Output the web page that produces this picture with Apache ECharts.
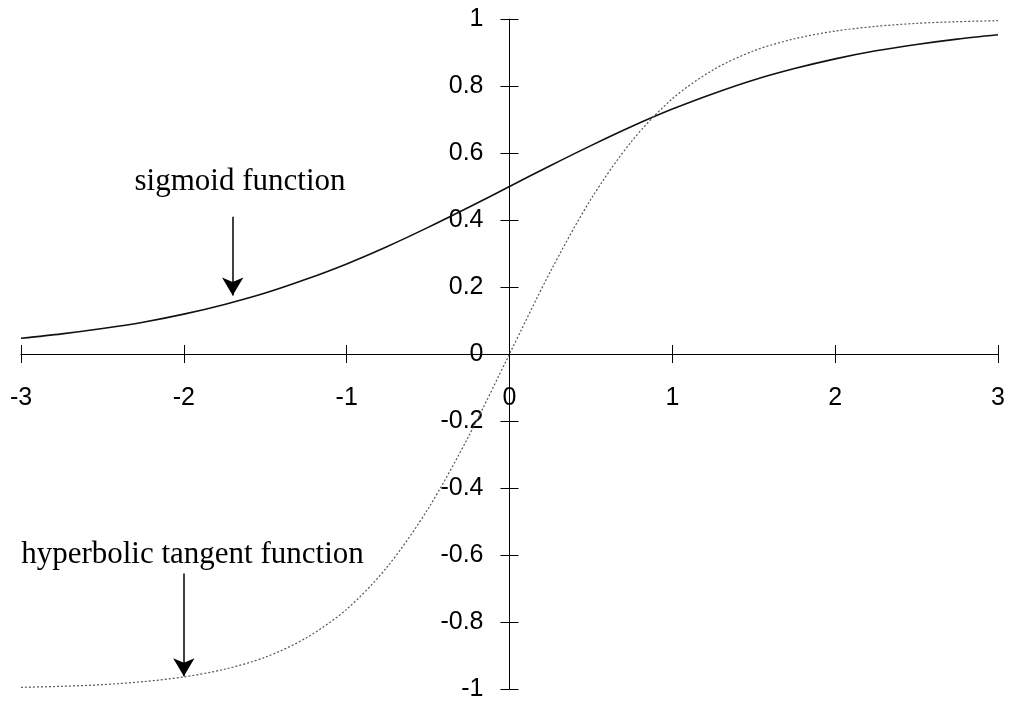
<!DOCTYPE html>
<html>
<head>
<meta charset="utf-8">
<script src="https://cdn.jsdelivr.net/npm/echarts@6/dist/echarts.min.js"></script>
<style>
  html, body { margin: 0; padding: 0; background: #ffffff; }
  #chart { width: 1011px; height: 701px; }
</style>
</head>
<body>
<div id="chart"></div>
<script>
// Sample points along the x axis
const xValues = [-3, -2.75, -2.5, -2.25, -2, -1.75, -1.5, -1.25, -1, -0.75, -0.5, -0.25,
  0, 0.25, 0.5, 0.75, 1, 1.25, 1.5, 1.75, 2, 2.25, 2.5, 2.75, 3];

// Logistic sigmoid readings
const sigmoidValues = [0.047, 0.060, 0.076, 0.095, 0.119, 0.148, 0.182, 0.223, 0.269, 0.321, 0.378, 0.438,
  0.500, 0.562, 0.622, 0.679, 0.731, 0.777, 0.818, 0.852, 0.881, 0.905, 0.924, 0.940, 0.953];

// Hyperbolic tangent readings
const tanhValues = [-0.995, -0.992, -0.987, -0.978, -0.964, -0.941, -0.905, -0.848, -0.762, -0.635, -0.462, -0.245,
  0.000, 0.245, 0.462, 0.635, 0.762, 0.848, 0.905, 0.941, 0.964, 0.978, 0.987, 0.992, 0.995];

// Callout labels and their arrows, in data units
const calloutTexts = ['sigmoid function', 'hyperbolic tangent function'];
const calloutTextAt = [[-1.655, 0.469], [-1.947, -0.646]];
const calloutArrowFrom = [[-1.70, 0.41], [-2.0, -0.655]];
const calloutArrowTo = [[-1.70, 0.175], [-2.0, -0.962]];

const pairs = (xs, ys) => xs.map((x, i) => [x, ys[i]]);

const el = document.getElementById('chart');
const chart = echarts.init(el, null, { renderer: 'canvas' });

// Plot box; the axes are shifted into its middle so they cross at the origin
const gridBox = { left: 21, right: 13, top: 19, bottom: 12 };
const plotW = chart.getWidth() - gridBox.left - gridBox.right;
const plotH = chart.getHeight() - gridBox.top - gridBox.bottom;
const xAxisShift = -plotH / 2;   // bottom axis moved up to y = 0
const yAxisShift = -plotW / 2;   // left axis moved right to x = 0

const axisFont = { fontFamily: 'Liberation Sans, Arial, sans-serif', fontSize: 25, color: '#000' };
const lineBlack = { color: '#000', width: 1 };

const arrowData = calloutArrowFrom.map((from, i) => [
  { coord: from },
  { coord: calloutArrowTo[i] }
]);

chart.setOption({
  animation: false,
  backgroundColor: '#ffffff',
  grid: Object.assign({ outerBoundsMode: 'none', containLabel: false }, gridBox),
  xAxis: [
    {
      type: 'value', min: -3, max: 3, interval: 1, position: 'bottom', offset: xAxisShift,
      axisLine: { show: true, onZero: false, lineStyle: lineBlack },
      axisTick: { show: true, inside: false, length: 9, lineStyle: lineBlack },
      axisLabel: Object.assign({ margin: 32, showMinLabel: true, showMaxLabel: true }, axisFont),
      splitLine: { show: false }
    },
    {
      type: 'value', min: -3, max: 3, interval: 1, position: 'bottom', offset: xAxisShift,
      axisLine: { show: false, onZero: false },
      axisTick: { show: true, inside: true, length: 9, lineStyle: lineBlack },
      axisLabel: { show: false },
      splitLine: { show: false }
    }
  ],
  yAxis: [
    {
      type: 'value', min: -1, max: 1, interval: 0.2, position: 'left', offset: yAxisShift,
      axisLine: { show: true, onZero: false, lineStyle: lineBlack },
      axisTick: { show: true, inside: false, length: 9, lineStyle: lineBlack },
      axisLabel: Object.assign({
        margin: 26, showMinLabel: true, showMaxLabel: true,
        formatter: v => String(Math.round(v * 10) / 10)
      }, axisFont),
      splitLine: { show: false }
    },
    {
      type: 'value', min: -1, max: 1, interval: 0.2, position: 'left', offset: yAxisShift,
      axisLine: { show: false, onZero: false },
      axisTick: { show: true, inside: true, length: 9, lineStyle: lineBlack },
      axisLabel: { show: false },
      splitLine: { show: false }
    }
  ],
  series: [
    {
      name: 'sigmoid',
      type: 'line',
      data: pairs(xValues, sigmoidValues),
      smooth: 0.3,
      showSymbol: false,
      lineStyle: { color: '#111', width: 1.6 },
      markLine: {
        silent: true,
        symbol: ['none', 'arrow'],
        symbolSize: [16, 18],
        label: { show: false },
        lineStyle: { color: '#000', width: 1.5, type: 'solid' },
        data: arrowData
      }
    },
    {
      name: 'tanh',
      type: 'line',
      data: pairs(xValues, tanhValues),
      smooth: 0.3,
      showSymbol: false,
      lineStyle: { color: '#555', width: 1.2, type: [2, 2] }
    }
  ]
});

// Callout captions placed from data coordinates
chart.setOption({
  graphic: calloutTexts.map((t, i) => {
    const p = chart.convertToPixel({ gridIndex: 0 }, calloutTextAt[i]);
    return {
      type: 'text',
      x: p[0], y: p[1],
      style: {
        text: t,
        fill: '#000',
        font: '31px "Liberation Serif", "Times New Roman", serif',
        textAlign: 'center',
        textVerticalAlign: 'bottom'
      }
    };
  })
});
</script>
</body>
</html>
